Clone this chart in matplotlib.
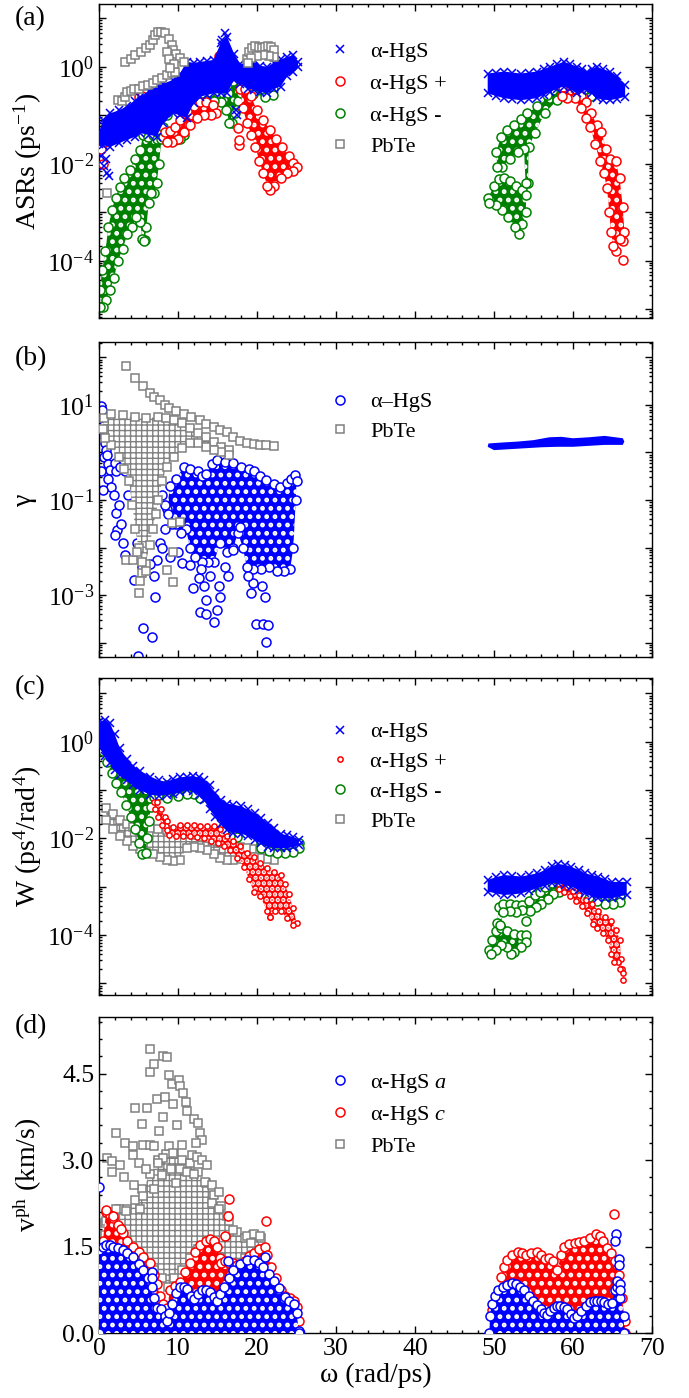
import numpy as np
import matplotlib
matplotlib.use('Agg')
import matplotlib.pyplot as plt
from matplotlib.lines import Line2D
from matplotlib.ticker import LogLocator, FuncFormatter, MultipleLocator, NullFormatter, FormatStrFormatter

plt.rcParams['font.family'] = ['Liberation Serif', 'DejaVu Serif']
plt.rcParams['mathtext.fontset'] = 'custom'
plt.rcParams['mathtext.rm'] = 'Liberation Serif'
plt.rcParams['mathtext.it'] = 'Liberation Serif:italic'
plt.rcParams['hatch.linewidth'] = 1.0

BLUE, RED, GREEN, GRAY = '#0000ff', '#ff0000', '#008000', '#808080'

# ---------------- (a) ASRs, log10 values ----------------
a_blue_x = [0.0, 0.5, 1.4, 2.5, 3.5, 4.5, 5.2, 6.3, 7.3, 8.1, 9.4, 10.2, 11.1, 12.0, 12.8, 13.7, 14.5, 15.4, 16.2, 17.1, 17.9, 18.8, 19.6, 20.4, 21.3, 22.1, 23.0, 23.8, 24.6, 25.2]
a_blue_top = [-1.35, -1.1, -0.96, -0.9, -0.82, -0.7, -0.62, -0.5, -0.41, -0.35, -0.27, -0.15, 0.1, 0.08, 0.1, 0.12, 0.14, 0.48, 0.62, 0.27, 0.05, 0.1, 0.14, 0.02, 0.0, 0.07, 0.15, 0.2, 0.24, 0.1]
a_blue_bot = [-1.6, -1.62, -1.65, -1.58, -1.51, -1.45, -1.37, -1.4, -1.44, -1.17, -0.96, -1.0, -1.05, -0.75, -0.62, -0.58, -0.55, -0.55, -0.55, -0.27, -0.35, -0.45, -0.48, -0.52, -0.55, -0.45, -0.41, -0.2, -0.1, 0.0]
a_blue_out = [(0.3, -1.85), (0.6, -2.05), (1.0, -2.2), (1.3, -2.25), (0.9, -1.9), (17.5, -1.0), (17.3, -0.9), (16.0, 0.7), (15.6, 0.55)]
a_blue_hx = [49.2, 50.2, 51.3, 52.3, 53.4, 54.4, 55.4, 56.3, 57.1, 58.0, 58.8, 59.6, 60.5, 61.2, 61.8, 62.4, 63.0, 63.8, 64.7, 65.6, 66.6]
a_blue_htop = [-0.14, -0.12, -0.1, -0.12, -0.14, -0.12, -0.1, -0.05, 0.0, 0.05, 0.1, 0.06, 0.0, -0.05, -0.1, -0.05, 0.0, -0.05, -0.1, -0.2, -0.38]
a_blue_hbot = [-0.55, -0.6, -0.65, -0.67, -0.69, -0.67, -0.65, -0.58, -0.52, -0.45, -0.41, -0.45, -0.55, -0.5, -0.48, -0.55, -0.65, -0.68, -0.69, -0.66, -0.62]

a_red_low1 = [(8.4, -1.35), (9.0, -1.32), (9.6, -1.25), (10.3, -1.1), (11.1, -0.92), (12.0, -0.8), (12.8, -0.72), (13.6, -0.72), (14.4, -0.78), (14.8, -0.95), (14.2, -1.0), (13.3, -1.0), (12.4, -1.05), (11.5, -1.2), (10.8, -1.35), (10.0, -1.5), (9.2, -1.55), (8.6, -1.55)]
a_red_low2 = [(17.9, -0.45), (18.5, -0.45), (19.2, -0.6), (20.0, -0.9), (20.8, -1.1), (21.6, -1.3), (22.4, -1.5), (23.2, -1.65), (24.0, -1.85), (24.6, -1.98), (25.1, -2.06), (24.6, -2.15), (23.8, -2.2), (23.0, -2.3), (22.2, -2.45), (21.7, -2.55), (21.3, -2.45), (20.8, -2.2), (20.3, -1.95), (19.8, -1.65), (19.3, -1.4), (18.7, -1.15), (18.2, -0.85)]
a_red_high = [(58.7, -0.42), (59.6, -0.38), (60.3, -0.45), (61.0, -0.6), (61.6, -0.72), (62.3, -0.95), (63.0, -1.2), (63.6, -1.35), (64.2, -1.7), (64.7, -1.9), (65.4, -1.95), (65.9, -2.3), (66.3, -2.9), (66.5, -3.4), (66.3, -3.6), (65.9, -3.55), (65.5, -3.8), (65.1, -3.7), (64.8, -3.4), (64.6, -3.0), (64.3, -2.5), (63.9, -2.2), (63.4, -1.95), (62.8, -1.6), (62.2, -1.25), (61.6, -1.05), (61.0, -0.85), (60.2, -0.65), (59.3, -0.65), (58.6, -0.6)]
a_red_out = [(17.7, -1.62), (17.7, -1.52), (17.6, -1.27), (15.2, 0.22), (15.4, 0.17), (0.2, -1.7), (0.5, -2.0), (0.8, -1.55), (1.2, -1.45), (5.0, -0.62), (5.4, -0.6), (66.3, -3.99)]

a_green_low1 = [(0.1, -4.6), (0.4, -4.2), (0.8, -3.8), (1.2, -3.3), (1.6, -2.95), (2.1, -2.7), (2.6, -2.47), (3.2, -2.3), (3.9, -2.13), (4.5, -1.9), (5.2, -1.72), (5.6, -1.4), (6.2, -1.45), (6.8, -1.4), (7.4, -1.5), (7.9, -1.5), (7.6, -2.0), (7.3, -2.4), (7.0, -2.6), (6.6, -2.6), (6.3, -2.8), (6.0, -3.3), (5.8, -3.58), (5.5, -3.55), (5.2, -3.2), (4.7, -3.1), (4.2, -3.3), (3.6, -3.45), (3.0, -3.75), (2.4, -4.0), (1.9, -4.35), (1.4, -4.6), (0.9, -4.8), (0.5, -4.95), (0.1, -4.95)]
a_green_low2 = [(8.1, -1.25), (8.8, -1.35), (9.6, -1.38), (10.3, -1.3), (10.6, -1.2), (10.8, -1.4), (10.3, -1.5), (9.6, -1.52), (8.8, -1.5), (8.1, -1.45)]
a_green_low3 = [(11.0, -0.62), (12.0, -0.58), (13.0, -0.55), (14.0, -0.52), (15.0, -0.55), (15.7, -0.55), (16.3, -0.55), (17.0, -0.3), (17.5, -0.2), (18.0, -0.25), (18.0, -0.5), (17.6, -0.7), (17.2, -0.95), (16.8, -1.15), (16.5, -1.15), (16.1, -0.9), (15.5, -0.72), (14.5, -0.7), (13.5, -0.7), (12.5, -0.72), (11.6, -0.8), (11.0, -0.9)]
a_green_low4 = [(18.0, -0.4), (19.5, -0.42), (21.0, -0.5), (22.0, -0.45), (22.0, -0.58), (21.0, -0.62), (19.5, -0.56), (18.0, -0.55)]
a_green_out = [(8.5, -0.9), (8.6, -1.0), (5.7, -3.6)]
a_green_high1 = [(49.3, -2.7), (50.0, -2.45), (50.6, -2.32), (51.3, -2.3), (52.0, -2.35), (52.8, -2.45), (53.6, -2.55), (54.1, -2.65), (54.0, -3.0), (53.6, -3.25), (53.2, -3.45), (52.6, -3.3), (51.8, -3.1), (51.0, -2.95), (50.2, -2.85), (49.4, -2.8)]
a_green_high2 = [(50.3, -1.75), (50.9, -1.44), (51.7, -1.3), (52.5, -1.2), (53.4, -1.08), (54.2, -0.96), (55.5, -0.82), (56.7, -0.58), (58.0, -0.38), (59.1, -0.27), (59.3, -0.35), (59.1, -0.45), (58.0, -0.69), (56.4, -0.96), (55.2, -1.37), (54.4, -1.65), (54.3, -2.4), (54.0, -2.4), (53.8, -1.7), (53.0, -1.75), (52.0, -1.9), (51.0, -2.06), (50.4, -2.06)]
a_green_high3 = [(60.3, -0.5), (61.3, -0.5), (62.3, -0.45), (62.3, -0.6), (61.3, -0.62), (60.3, -0.6)]

a_gray = [(1.0, -2.61), (2.45, -0.69), (2.9, -0.7), (3.3, -0.62), (3.55, -0.52), (4.0, -0.5), (4.4, -0.45), (5.0, -0.45), (5.6, -0.4), (6.2, -0.38), (6.8, -0.33), (7.3, -0.27), (8.0, -0.24), (8.6, -0.17), (9.2, -0.12), (9.6, -0.1),
          (3.3, 0.1), (4.0, 0.15), (4.6, 0.24), (5.3, 0.3), (5.9, 0.38), (6.4, 0.45), (6.8, 0.56), (7.1, 0.65), (7.5, 0.72), (7.9, 0.72), (8.3, 0.69), (8.8, 0.58), (9.2, 0.45), (9.4, 0.34), (9.8, 0.27), (10.3, 0.17), (10.7, 0.1), (8.6, 0.3), (8.9, 0.15), (9.5, 0.05), (9.0, -0.02),
          (18.7, 0.15), (19.0, 0.3), (19.4, 0.38), (19.8, 0.42), (20.2, 0.4), (20.6, 0.38), (21.0, 0.4), (21.4, 0.42), (21.8, 0.4), (22.1, 0.35), (22.1, 0.2), (21.5, 0.22), (20.8, 0.25), (20.0, 0.22), (19.3, 0.18), (18.9, 0.08)]

# ---------------- (b) Gruneisen parameter, log10 values ----------------
b_gray_core = [(0.6, 0.72), (1.5, 0.8), (3.0, 0.78), (4.5, 0.74), (6.0, 0.72), (7.5, 0.75), (8.5, 0.72), (9.5, 0.68), (10.5, 0.62), (11.5, 0.52), (12.5, 0.42), (13.5, 0.32), (14.5, 0.22), (15.5, 0.12), (16.5, 0.05), (16.5, -0.05), (15.5, 0.0), (14.5, 0.05), (13.5, 0.12), (12.5, 0.2), (11.5, 0.2), (10.5, 0.1), (9.5, -0.1), (8.6, -0.3), (8.0, -0.6), (7.5, -1.0), (7.2, -1.3), (6.8, -1.6), (6.4, -1.95), (5.9, -2.35), (5.4, -2.3), (5.0, -2.0), (4.6, -1.6), (4.2, -1.1), (3.8, -0.6), (3.2, -0.35), (2.5, -0.1), (1.5, 0.15), (0.8, 0.3), (0.5, 0.5)]
b_gray_pts = [(3.4, 1.82), (4.5, 1.56), (5.6, 1.39), (6.4, 1.25), (7.0, 1.17), (7.7, 1.1), (8.3, 1.0), (8.9, 0.93), (9.8, 0.87), (10.7, 0.82), (11.7, 0.75), (12.8, 0.68), (13.6, 0.6), (14.5, 0.54), (15.3, 0.48), (16.2, 0.44), (17.0, 0.33), (17.8, 0.25), (18.7, 0.19), (19.6, 0.17), (20.4, 0.16), (21.2, 0.15), (22.1, 0.14),
              (5.0, -2.96), (5.4, -2.54), (3.4, -2.26), (4.3, -2.26), (8.6, -2.47), (9.4, -2.72), (9.4, -2.09), (9.2, -1.49), (10.3, -1.46), (5.2, -2.7), (4.8, -2.1), (6.0, -2.5)]
b_blue_core = [(8.6, -1.2), (9.0, -0.7), (9.8, -0.55), (10.7, -0.3), (11.5, -0.35), (12.5, -0.4), (13.0, -0.5), (13.5, -0.45), (14.3, -0.25), (14.9, -0.16), (16.0, -0.2), (17.0, -0.23), (18.0, -0.3), (19.0, -0.35), (19.6, -0.4), (20.4, -0.5), (21.2, -0.58), (22.1, -0.66), (22.9, -0.72), (23.8, -0.65), (24.3, -0.55), (24.8, -0.47), (25.0, -0.6),
               (24.9, -1.0), (24.6, -2.0), (24.2, -2.45), (23.4, -2.5), (22.5, -2.5), (21.5, -2.4), (20.5, -2.45), (19.5, -2.45), (18.7, -2.4), (18.2, -2.0), (17.6, -1.7), (17.0, -2.0), (16.2, -2.1), (15.3, -1.9), (14.6, -2.3), (13.8, -2.3), (13.0, -2.3), (12.2, -2.2), (11.5, -2.0), (11.0, -1.6), (10.4, -1.7), (9.8, -1.5), (9.2, -1.5), (8.7, -1.3)]
b_blue_pts = [(0.3, 0.97), (0.4, 0.9), (0.5, 0.55), (0.6, 0.45), (0.7, 0.35), (0.8, 0.2), (0.9, 0.05), (0.6, -0.1), (1.0, -0.05), (1.2, -0.25), (1.4, -0.37), (1.1, -0.55), (1.5, -0.72), (2.0, -0.23), (2.2, -0.4), (1.9, -0.9), (2.1, -1.28), (2.5, -1.1), (2.3, -1.63), (2.0, -1.74), (2.8, -1.5), (3.3, -2.16), (3.0, -1.9), (4.4, -2.68), (4.8, -1.91), (5.2, -2.05), (5.6, -3.7), (6.7, -3.88), (5.5, -2.4), (6.9, -2.61), (7.1, -3.04), (7.3, -2.26), (7.7, -1.91), (8.0, -2.0), (6.5, -2.35),
              (10.5, -2.33), (11.5, -2.37), (11.9, -2.86), (12.6, -2.65), (12.9, -2.45), (13.6, -3.1), (12.8, -3.35), (13.6, -3.39), (14.5, -3.56), (14.9, -3.32), (15.3, -3.04), (15.2, -2.8), (17.0, -2.05), (17.9, -1.56), (19.9, -3.6), (20.8, -3.6), (21.4, -3.63), (21.2, -3.98), (21.0, -3.04), (20.6, -2.8), (19.5, -2.75), (19.2, -2.95), (18.9, -2.6), (16.3, -2.6), (16.0, -2.4), (14.0, -2.6), (13.3, -2.8), (10.0, -2.1), (9.0, -2.2), (8.3, -1.6),
              (6.0, -1.2), (5.0, -1.0), (4.0, -0.55), (3.3, -0.4), (2.7, -0.3), (3.7, -0.9), (6.5, -0.6), (7.5, -0.5), (7.0, -1.0), (8.0, -0.9), (8.4, -1.1), (0.2, -0.4), (0.5, -0.8), (4.9, -4.28)]
b_blue_high = [(49.3, 0.19), (51.0, 0.21), (53.0, 0.23), (55.0, 0.26), (57.0, 0.32), (58.5, 0.33), (60.0, 0.3), (62.0, 0.32), (64.0, 0.35), (66.3, 0.3), (66.5, 0.23), (66.3, 0.16), (64.0, 0.16), (62.0, 0.14), (60.0, 0.12), (58.0, 0.12), (56.0, 0.11), (54.0, 0.09), (52.0, 0.07), (50.0, 0.05), (49.2, 0.12)]

# ---------------- (c) weighted phase space, log10 values ----------------
c_blue_x = [0.0, 0.7, 1.4, 2.0, 2.6, 3.5, 4.3, 5.2, 6.5, 7.6, 8.6, 9.4, 10.2, 11.1, 11.9, 12.6, 13.3, 14.0, 14.7, 15.5, 16.2, 17.0, 18.0, 18.8, 19.7, 20.5, 21.4, 22.2, 23.0, 23.8, 24.6, 25.3]
c_blue_top = [0.41, 0.45, 0.38, 0.15, -0.12, -0.35, -0.5, -0.6, -0.72, -0.8, -0.83, -0.78, -0.74, -0.72, -0.71, -0.74, -0.79, -0.9, -1.07, -1.2, -1.28, -1.3, -1.34, -1.4, -1.48, -1.58, -1.69, -1.78, -1.9, -1.94, -1.97, -2.03]
c_blue_bot = [-0.1, -0.3, -0.45, -0.58, -0.68, -0.8, -0.9, -1.0, -1.1, -1.12, -1.1, -1.08, -1.05, -1.0, -1.02, -1.1, -1.2, -1.4, -1.55, -1.7, -1.83, -1.88, -1.9, -1.95, -2.03, -2.1, -2.17, -2.2, -2.2, -2.2, -2.18, -2.14]
c_blue_hx = [49.2, 50.3, 51.3, 52.3, 53.4, 54.4, 55.5, 56.4, 57.3, 58.1, 59.0, 59.8, 60.7, 61.5, 62.4, 63.2, 64.0, 64.9, 65.8, 66.8]
c_blue_htop = [-2.86, -2.8, -2.76, -2.77, -2.79, -2.76, -2.72, -2.66, -2.58, -2.53, -2.55, -2.59, -2.65, -2.72, -2.76, -2.79, -2.84, -2.9, -2.9, -2.9]
c_blue_hbot = [-3.1, -3.14, -3.17, -3.16, -3.14, -3.09, -3.03, -2.98, -2.93, -2.93, -2.96, -3.0, -3.07, -3.14, -3.2, -3.24, -3.24, -3.24, -3.2, -3.17]

c_green_low1 = [(0.0, 0.05), (0.5, -0.2), (1.0, -0.42), (1.6, -0.65), (2.2, -0.85), (2.8, -1.05), (3.4, -1.3), (4.0, -1.55), (4.6, -1.8), (5.1, -2.1), (5.5, -2.32), (5.9, -2.3), (6.1, -2.0), (6.3, -1.65), (6.6, -1.35), (7.0, -1.15), (7.6, -1.1), (8.6, -1.12), (8.6, -0.9), (4.0, -0.6)]
c_green_low2 = [(8.6, -1.08), (10.0, -1.05), (11.1, -1.0), (12.0, -1.0), (12.8, -1.08), (12.8, -1.16), (12.0, -1.09), (11.1, -1.09), (10.0, -1.13), (8.6, -1.16)]
c_green_low3 = [(15.8, -1.75), (16.6, -1.85), (17.5, -1.88), (17.5, -1.98), (16.6, -1.95), (15.8, -1.85)]
c_green_low4 = [(20.5, -2.1), (21.5, -2.17), (22.5, -2.2), (23.5, -2.2), (24.5, -2.18), (25.3, -2.1), (25.3, -2.2), (24.5, -2.28), (23.5, -2.3), (22.5, -2.3), (21.5, -2.27), (20.5, -2.2)]
c_green_high1 = [(49.4, -4.3), (49.8, -4.1), (50.3, -3.92), (50.9, -3.85), (51.7, -3.92), (52.5, -3.98), (53.4, -4.0), (54.1, -4.0), (54.1, -4.15), (53.4, -4.25), (52.5, -4.35), (52.1, -4.4), (51.7, -4.25), (50.9, -4.2), (50.2, -4.3), (49.6, -4.4)]
c_green_high2 = [(50.4, -3.75), (50.6, -3.42), (51.2, -3.35), (52.0, -3.35), (52.8, -3.38), (53.6, -3.38), (54.4, -3.3), (55.2, -3.18), (55.8, -3.1), (56.5, -3.0), (57.3, -2.92), (58.0, -2.85), (58.6, -2.88), (59.3, -2.93), (60.0, -2.98), (61.0, -3.05), (62.0, -3.12), (63.0, -3.2), (64.0, -3.25), (65.0, -3.25), (66.0, -3.22),
                 (66.0, -3.32), (65.0, -3.35), (64.0, -3.35), (63.0, -3.3), (62.0, -3.22), (61.0, -3.15), (60.0, -3.05), (59.0, -3.05), (58.2, -3.1), (57.5, -3.15), (56.8, -3.25), (56.0, -3.35), (55.3, -3.42), (54.5, -3.5), (53.6, -3.48), (52.8, -3.52), (52.0, -3.5), (51.2, -3.52), (50.8, -3.8)]
c_green_out = [(54.1, -3.71)]

c_red_low1 = [(7.0, -1.25), (7.4, -1.25), (7.8, -1.4), (8.3, -1.55), (8.6, -1.65), (8.5, -1.75), (8.0, -1.72), (7.5, -1.55), (7.1, -1.4)]
c_red_low2 = [(8.6, -1.82), (9.4, -1.76), (10.3, -1.72), (11.1, -1.72), (12.0, -1.73), (12.8, -1.75), (13.7, -1.74), (14.5, -1.74), (15.3, -1.8), (16.2, -1.95), (17.0, -2.05), (17.8, -2.15), (18.7, -2.3), (19.6, -2.38), (20.4, -2.5), (21.3, -2.62), (22.1, -2.7), (23.0, -2.75), (23.5, -2.95), (24.0, -3.15), (24.6, -3.45), (25.0, -3.75),
              (24.6, -3.8), (23.8, -3.65), (23.0, -3.5), (22.3, -3.5), (21.7, -3.62), (21.3, -3.5), (20.4, -3.2), (19.6, -3.1), (19.0, -2.85), (18.4, -2.6), (17.5, -2.4), (16.6, -2.25), (15.8, -2.15), (15.0, -2.1), (14.2, -2.05), (13.3, -2.0), (12.4, -1.98), (11.5, -1.95), (10.6, -1.95), (9.7, -1.95), (8.8, -1.93)]
c_red_high = [(58.2, -2.95), (59.2, -3.0), (60.0, -3.08), (60.8, -3.18), (61.6, -3.28), (62.4, -3.35), (63.2, -3.5), (64.0, -3.62), (64.8, -3.7), (65.5, -3.9), (65.9, -4.1), (66.1, -4.5), (66.2, -4.7),
              (66.0, -4.7), (65.7, -4.55), (65.2, -4.55), (64.8, -4.4), (64.4, -4.1), (63.8, -3.95), (63.1, -3.85), (62.5, -3.78), (61.8, -3.55), (61.1, -3.4), (60.4, -3.3), (59.6, -3.2), (58.8, -3.1), (58.2, -3.05)]
c_red_out = [(0.1, 0.1), (0.2, 0.0), (21.7, -3.62), (66.3, -4.78), (66.3, -4.92)]

c_gray = [(0.9, -1.38), (1.8, -1.5), (2.6, -1.62), (3.5, -1.7), (4.3, -1.76), (5.2, -1.78), (6.4, -1.78), (7.5, -1.8), (8.6, -1.82), (9.5, -1.86), (10.3, -1.87), (11.1, -1.9), (12.0, -1.93), (13.0, -1.97), (13.7, -2.0), (14.5, -2.05), (15.3, -2.08), (16.2, -2.12), (17.0, -2.15), (17.9, -2.18), (18.7, -2.2), (19.6, -2.21), (20.4, -2.23), (21.3, -2.26), (22.1, -2.3),
          (22.1, -2.45), (21.3, -2.42), (20.4, -2.4), (19.6, -2.38), (18.7, -2.4), (17.9, -2.43), (17.0, -2.45), (16.2, -2.45), (15.3, -2.4), (14.5, -2.32), (13.7, -2.25), (12.8, -2.2), (12.0, -2.18), (11.1, -2.2), (10.3, -2.45), (9.4, -2.47), (8.6, -2.45), (7.7, -2.38), (6.8, -2.33), (6.0, -2.3), (5.2, -2.22), (4.3, -2.15), (3.5, -2.05), (2.6, -1.95), (1.8, -1.8), (0.9, -1.62)]

# ---------------- (d) phase velocity, km/s ----------------
d_gray_core = [(0.8, 1.9), (1.5, 2.1), (2.5, 2.15), (3.5, 2.15), (4.5, 2.3), (5.5, 2.5), (6.5, 2.75), (7.5, 3.0), (8.5, 3.1), (9.5, 3.1), (10.5, 3.0), (11.5, 2.95), (12.5, 2.8), (13.5, 2.6), (14.5, 2.4), (15.5, 2.2), (16.5, 1.95), (17.5, 1.75), (18.5, 1.65), (19.5, 1.7), (20.5, 1.65), (20.8, 1.45),
               (19.5, 1.35), (18.5, 1.3), (17.5, 1.2), (16.5, 1.2), (15.5, 1.3), (14.5, 1.4), (13.5, 1.5), (12.5, 1.45), (11.5, 1.3), (10.5, 1.1), (9.5, 0.95), (8.7, 0.8), (8.0, 0.95), (7.0, 1.1), (6.0, 1.2), (5.0, 1.3), (4.0, 1.45), (3.0, 1.6), (2.0, 1.6), (1.0, 1.55), (0.8, 1.7)]
d_gray_pts = [(6.4, 4.93), (6.4, 4.53), (7.0, 4.66), (8.1, 4.81), (8.6, 4.78), (7.3, 4.06), (8.3, 4.09), (8.9, 4.47), (9.2, 4.32), (9.4, 3.97), (10.1, 4.38), (10.3, 4.29), (10.6, 4.16), (11.0, 4.0), (4.6, 3.91), (6.1, 3.91), (8.1, 3.74), (5.5, 3.62), (11.1, 3.85), (12.0, 3.71), (12.5, 3.65), (12.8, 3.47), (13.0, 3.35),
              (2.2, 3.47), (3.3, 3.29), (1.0, 3.03), (1.6, 2.98), (2.6, 2.92), (4.3, 3.24), (4.3, 3.09), (5.6, 3.26), (6.4, 3.26), (7.0, 3.24), (8.1, 3.03), (8.9, 3.24), (9.4, 3.12), (10.5, 3.26), (11.8, 3.09), (12.4, 3.05), (13.0, 3.0), (13.7, 2.91),
              (1.6, 2.79), (3.2, 2.71), (4.4, 2.56), (5.6, 2.38), (6.9, 2.5), (8.0, 2.74), (9.1, 2.85), (10.3, 2.85), (11.1, 2.79), (12.0, 2.75), (13.4, 2.62), (14.3, 2.56), (15.2, 2.44), (2.2, 2.15), (3.4, 2.12), (5.2, 2.15), (14.3, 2.26), (15.2, 2.15), (16.2, 2.03),
              (0.9, 1.94), (17.0, 1.79), (18.7, 1.68), (19.6, 1.71), (20.4, 1.68), (19.2, 1.56), (5.0, 2.95), (6.0, 2.85), (7.5, 2.95), (9.8, 2.6), (7.6, 3.5), (9.9, 3.6), (12.3, 3.3)]
d_red_low = [(0.0, 0.0), (0.0, 1.2), (0.5, 1.6), (0.9, 2.1), (1.4, 2.05), (1.8, 2.0), (2.4, 1.85), (3.0, 1.74), (3.6, 1.6), (4.3, 1.5), (5.0, 1.4), (5.6, 1.32), (6.4, 1.21), (6.9, 1.0), (7.3, 0.85), (7.7, 0.65), (8.1, 0.5), (8.6, 0.44), (9.0, 0.74), (9.6, 0.82), (10.3, 0.88), (10.9, 1.05), (11.5, 1.21), (12.2, 1.4), (12.8, 1.52), (13.5, 1.6), (14.0, 1.63), (14.5, 1.6), (14.9, 1.5), (15.3, 1.3), (15.5, 1.21),
             (16.0, 1.25), (16.5, 1.22), (17.0, 1.21), (17.5, 1.18), (17.9, 1.15), (18.5, 1.25), (19.0, 1.33), (19.6, 1.38), (20.3, 1.45), (21.0, 1.5), (21.3, 1.35), (21.8, 1.15), (22.4, 0.95), (23.0, 0.75), (23.6, 0.65), (24.2, 0.6), (24.7, 0.56), (25.0, 0.45), (25.3, 0.21), (25.3, 0.0)]
d_red_out = [(16.4, 2.32), (16.3, 2.03), (16.0, 1.68), (21.1, 1.94), (0.9, 2.14), (1.8, 2.03), (2.4, 1.88), (2.8, 1.8), (65.2, 2.06)]
d_blue_low = [(0.0, 0.0), (0.0, 1.44), (0.5, 1.5), (0.9, 1.53), (1.4, 1.52), (1.8, 1.5), (2.4, 1.47), (3.0, 1.44), (3.6, 1.38), (4.3, 1.32), (5.0, 1.2), (5.6, 1.09), (6.2, 0.95), (6.7, 0.79), (7.0, 0.6), (7.3, 0.44), (7.9, 0.41), (8.3, 0.3), (8.6, 0.21), (8.9, 0.35), (9.2, 0.5), (9.7, 0.7), (10.3, 0.79), (10.7, 0.8), (11.1, 0.76), (11.6, 0.65), (12.0, 0.59), (12.5, 0.68), (13.0, 0.74), (13.5, 0.74), (14.0, 0.71), (14.5, 0.62), (14.9, 0.56),
              (15.3, 0.68), (15.8, 0.79), (16.4, 0.95), (17.0, 1.09), (17.8, 1.2), (18.7, 1.26), (19.6, 1.26), (20.2, 1.22), (20.8, 1.15), (21.5, 1.03), (22.1, 0.91), (22.8, 0.78), (23.5, 0.62), (24.1, 0.55), (24.7, 0.5), (25.0, 0.35), (25.3, 0.03), (25.3, 0.0)]
d_blue_out = [(0.0, 2.53), (6.7, 1.06), (6.7, 0.95), (16.3, 1.24), (21.0, 1.32), (65.4, 1.71), (65.3, 1.6), (65.8, 1.29), (65.8, 1.18), (65.6, 0.91), (65.9, 0.85), (66.0, 0.75)]
d_red_high = [(49.6, 0.0), (49.8, 0.4), (50.3, 0.65), (50.9, 0.97), (51.3, 1.15), (51.7, 1.26), (52.3, 1.35), (53.0, 1.41), (53.5, 1.38), (54.0, 1.35), (54.7, 1.38), (55.5, 1.41), (56.0, 1.35), (56.4, 1.29), (57.0, 1.3), (57.5, 1.25), (58.0, 1.09), (58.5, 1.35), (58.9, 1.5), (59.5, 1.55), (60.2, 1.56), (60.8, 1.58), (61.4, 1.59), (62.2, 1.65), (62.9, 1.71), (63.4, 1.68), (63.8, 1.59), (64.3, 1.48), (64.8, 1.38), (65.3, 1.25), (65.8, 1.0), (66.2, 0.6), (66.6, 0.2), (66.6, 0.0)]
d_blue_high = [(49.4, 0.0), (49.5, 0.3), (49.7, 0.5), (50.1, 0.65), (50.5, 0.74), (51.1, 0.8), (51.7, 0.84), (52.3, 0.86), (52.8, 0.85), (53.3, 0.8), (53.8, 0.74), (54.4, 0.65), (54.9, 0.56), (55.4, 0.48), (55.9, 0.41), (56.3, 0.35), (56.7, 0.32), (57.1, 0.38), (57.6, 0.44), (58.0, 0.47), (58.4, 0.47), (58.8, 0.45), (59.3, 0.41), (59.7, 0.33), (60.1, 0.26), (60.5, 0.3), (61.0, 0.38), (61.6, 0.46), (62.2, 0.53), (62.6, 0.56), (63.0, 0.56), (63.5, 0.55), (63.9, 0.53), (64.4, 0.5), (64.9, 0.52), (65.3, 0.74), (65.6, 0.8), (66.0, 0.6), (66.4, 0.3), (66.5, 0.0)]


def xy(pts, log):
    p = np.asarray(pts, float)
    return p[:, 0], (10 ** p[:, 1] if log else p[:, 1])


def dots(ax, pts, color, log=True, marker='o', ms=6.5, z=2):
    x, y = xy(pts, log)
    ax.plot(x, y, ls='none', marker=marker, ms=ms, mfc='white', mec=color, mew=1.1, zorder=z)


def cloud(ax, pts, color, log=True, marker='o', ms=6.5, hatch='..', solid=False, z=2):
    # dense pile of open markers: coloured area speckled with white centres, markers along the rim
    x, y = xy(pts, log)
    if solid:
        ax.fill(x, y, color=color, lw=0, zorder=z)
    else:
        with plt.rc_context({'hatch.linewidth': 2.2}):
            p = ax.fill(x, y, facecolor=color, edgecolor='white', hatch=hatch, lw=0, zorder=z)[0]
        if hasattr(p, 'set_hatch_linewidth'):
            p.set_hatch_linewidth(2.2)
    dots(ax, pts, color, log, marker, ms, z)


def mesh(ax, pts, color, log=True, z=1):
    # dense pile of open squares
    x, y = xy(pts, log)
    p = ax.fill(x, y, facecolor='white', edgecolor=color, hatch='+++', lw=0, zorder=z)[0]
    if hasattr(p, 'set_hatch_linewidth'):
        p.set_hatch_linewidth(1.0)
    dots(ax, pts, color, log, 's', 5.5, z)


def band(x, top, bot):
    return list(zip(x, top)) + list(zip(x[::-1], bot[::-1]))


fig = plt.figure(figsize=(6.89, 13.98), dpi=100)
L, W = 99 / 689, 553 / 689
tops = [4, 342, 678, 1017]
bots = [318, 657, 995, 1333]
axes = [fig.add_axes([L, 1 - b / 1398, W, (b - t) / 1398]) for t, b in zip(tops, bots)]
axa, axb, axc, axd = axes

# (a)
for g in (a_green_low1, a_green_low2, a_green_low3, a_green_low4, a_green_high1, a_green_high2, a_green_high3):
    cloud(axa, g, GREEN, z=2)
dots(axa, a_green_out, GREEN, z=2)
for r in (a_red_low1, a_red_low2, a_red_high):
    cloud(axa, r, RED, z=3)
dots(axa, a_red_out, RED, z=3)
cloud(axa, band(a_blue_x, a_blue_top, a_blue_bot), BLUE, marker='x', ms=6, solid=True, z=4)
cloud(axa, band(a_blue_hx, a_blue_htop, a_blue_hbot), BLUE, marker='x', ms=6, solid=True, z=4)
dots(axa, a_blue_out, BLUE, marker='x', ms=6, z=4)
dots(axa, a_gray, GRAY, marker='s', ms=5.5, z=5)

# (b)
cloud(axb, b_blue_core, BLUE, z=2)
dots(axb, b_blue_pts, BLUE, z=2)
axb.fill(*xy(b_blue_high, True), color=BLUE, lw=0, zorder=2)
mesh(axb, b_gray_core, GRAY, z=3)
dots(axb, b_gray_pts, GRAY, marker='s', ms=5.5, z=3)

# (c)
mesh(axc, c_gray, GRAY, z=1)
for g in (c_green_low1, c_green_low2, c_green_low3, c_green_low4, c_green_high1, c_green_high2):
    cloud(axc, g, GREEN, z=2)
dots(axc, c_green_out, GREEN, z=2)
for r in (c_red_low1, c_red_low2, c_red_high):
    cloud(axc, r, RED, ms=3.8, hatch='...', z=3)
dots(axc, c_red_out, RED, ms=3.8, z=3)
cloud(axc, band(c_blue_x, c_blue_top, c_blue_bot), BLUE, marker='x', ms=6, solid=True, z=4)
cloud(axc, band(c_blue_hx, c_blue_htop, c_blue_hbot), BLUE, marker='x', ms=6, solid=True, z=4)

# (d)
mesh(axd, d_gray_core, GRAY, log=False, z=1)
dots(axd, d_gray_pts, GRAY, log=False, marker='s', ms=5.5, z=1)
cloud(axd, d_red_low, RED, log=False, z=2)
cloud(axd, d_red_high, RED, log=False, z=2)
dots(axd, d_red_out, RED, log=False, z=2)
cloud(axd, d_blue_low, BLUE, log=False, z=3)
cloud(axd, d_blue_high, BLUE, log=False, z=3)
dots(axd, d_blue_out, BLUE, log=False, z=3)


def decade_labels(parity):
    def f(v, pos):
        e = int(round(np.log10(v)))
        return r'$10^{%d}$' % e if e % 2 == parity else ''
    return FuncFormatter(f)


ylims = [(10 ** -5.18, 10 ** 1.293), (10 ** -4.305, 10 ** 2.326), (10 ** -5.24, 10 ** 1.318)]
for ax, lim, par in zip(axes[:3], ylims, (0, 1, 0)):
    ax.set_yscale('log')
    ax.set_ylim(*lim)
    ax.yaxis.set_major_locator(LogLocator(base=10, numticks=30))
    ax.yaxis.set_minor_locator(LogLocator(base=10, subs=np.arange(2, 10), numticks=100))
    ax.yaxis.set_major_formatter(decade_labels(par))
    ax.yaxis.set_minor_formatter(NullFormatter())

axd.set_ylim(0, 5.48)
axd.yaxis.set_major_locator(MultipleLocator(1.5))
axd.yaxis.set_minor_locator(MultipleLocator(0.3))
axd.yaxis.set_major_formatter(FormatStrFormatter('%.1f'))

for ax in axes:
    ax.set_xlim(0, 70)
    ax.xaxis.set_major_locator(MultipleLocator(10))
    ax.xaxis.set_minor_locator(MultipleLocator(2))
    ax.tick_params(which='both', direction='in', top=True, right=True, labelsize=18.5, width=1)
    ax.tick_params(which='major', length=5)
    ax.tick_params(which='minor', length=2.5)
    for s in ax.spines.values():
        s.set_linewidth(1.0)
    if ax is not axd:
        ax.tick_params(labelbottom=False)

axa.set_ylabel(r'ASRs (ps$^{-1}$)', fontsize=20)
axb.set_ylabel('γ', fontsize=20)
axc.set_ylabel(r'W (ps$^{4}$/rad$^{4}$)', fontsize=20)
axd.set_ylabel(r'v$^{\mathrm{ph}}$ (km/s)', fontsize=20)
axd.set_xlabel('ω (rad/ps)', fontsize=20, labelpad=2)
for ax in axes:
    ax.yaxis.set_label_coords(-0.1, 0.5)
axb.yaxis.set_label_coords(-0.112, 0.5)

for lab, t in zip(('(a)', '(b)', '(c)', '(d)'), (6, 346, 675, 1014)):
    fig.text(0.022, 1 - t / 1398, lab, fontsize=20, va='top', ha='left')


def h(marker, color, ms=6.5):
    return Line2D([], [], ls='none', marker=marker, ms=ms, mfc='white', mec=color, mew=1.1)


leg_kw = dict(loc='upper left', frameon=False, fontsize=16, handlelength=1.0, handletextpad=0.85,
              borderaxespad=0, borderpad=0, labelspacing=0.42)
axa.legend([h('x', BLUE, 6), h('o', RED), h('o', GREEN), h('s', GRAY, 5.5)],
           ['α-HgS', 'α-HgS +', 'α-HgS -', 'PbTe'], bbox_to_anchor=(0.416, 0.88),
           **{**leg_kw, 'labelspacing': 0.5})
axb.legend([h('o', BLUE), h('s', GRAY, 5.5)], ['α–HgS', 'PbTe'], bbox_to_anchor=(0.416, 0.842), **leg_kw)
axc.legend([h('x', BLUE, 6), h('o', RED, 3.8), h('o', GREEN), h('s', GRAY, 5.5)],
           ['α-HgS', 'α-HgS +', 'α-HgS -', 'PbTe'], bbox_to_anchor=(0.416, 0.862), **leg_kw)
axd.legend([h('o', BLUE), h('o', RED), h('s', GRAY, 5.5)],
           [r'α-HgS $a$', r'α-HgS $c$', 'PbTe'], bbox_to_anchor=(0.416, 0.827), **leg_kw)

fig.savefig('out.png', dpi=100)
